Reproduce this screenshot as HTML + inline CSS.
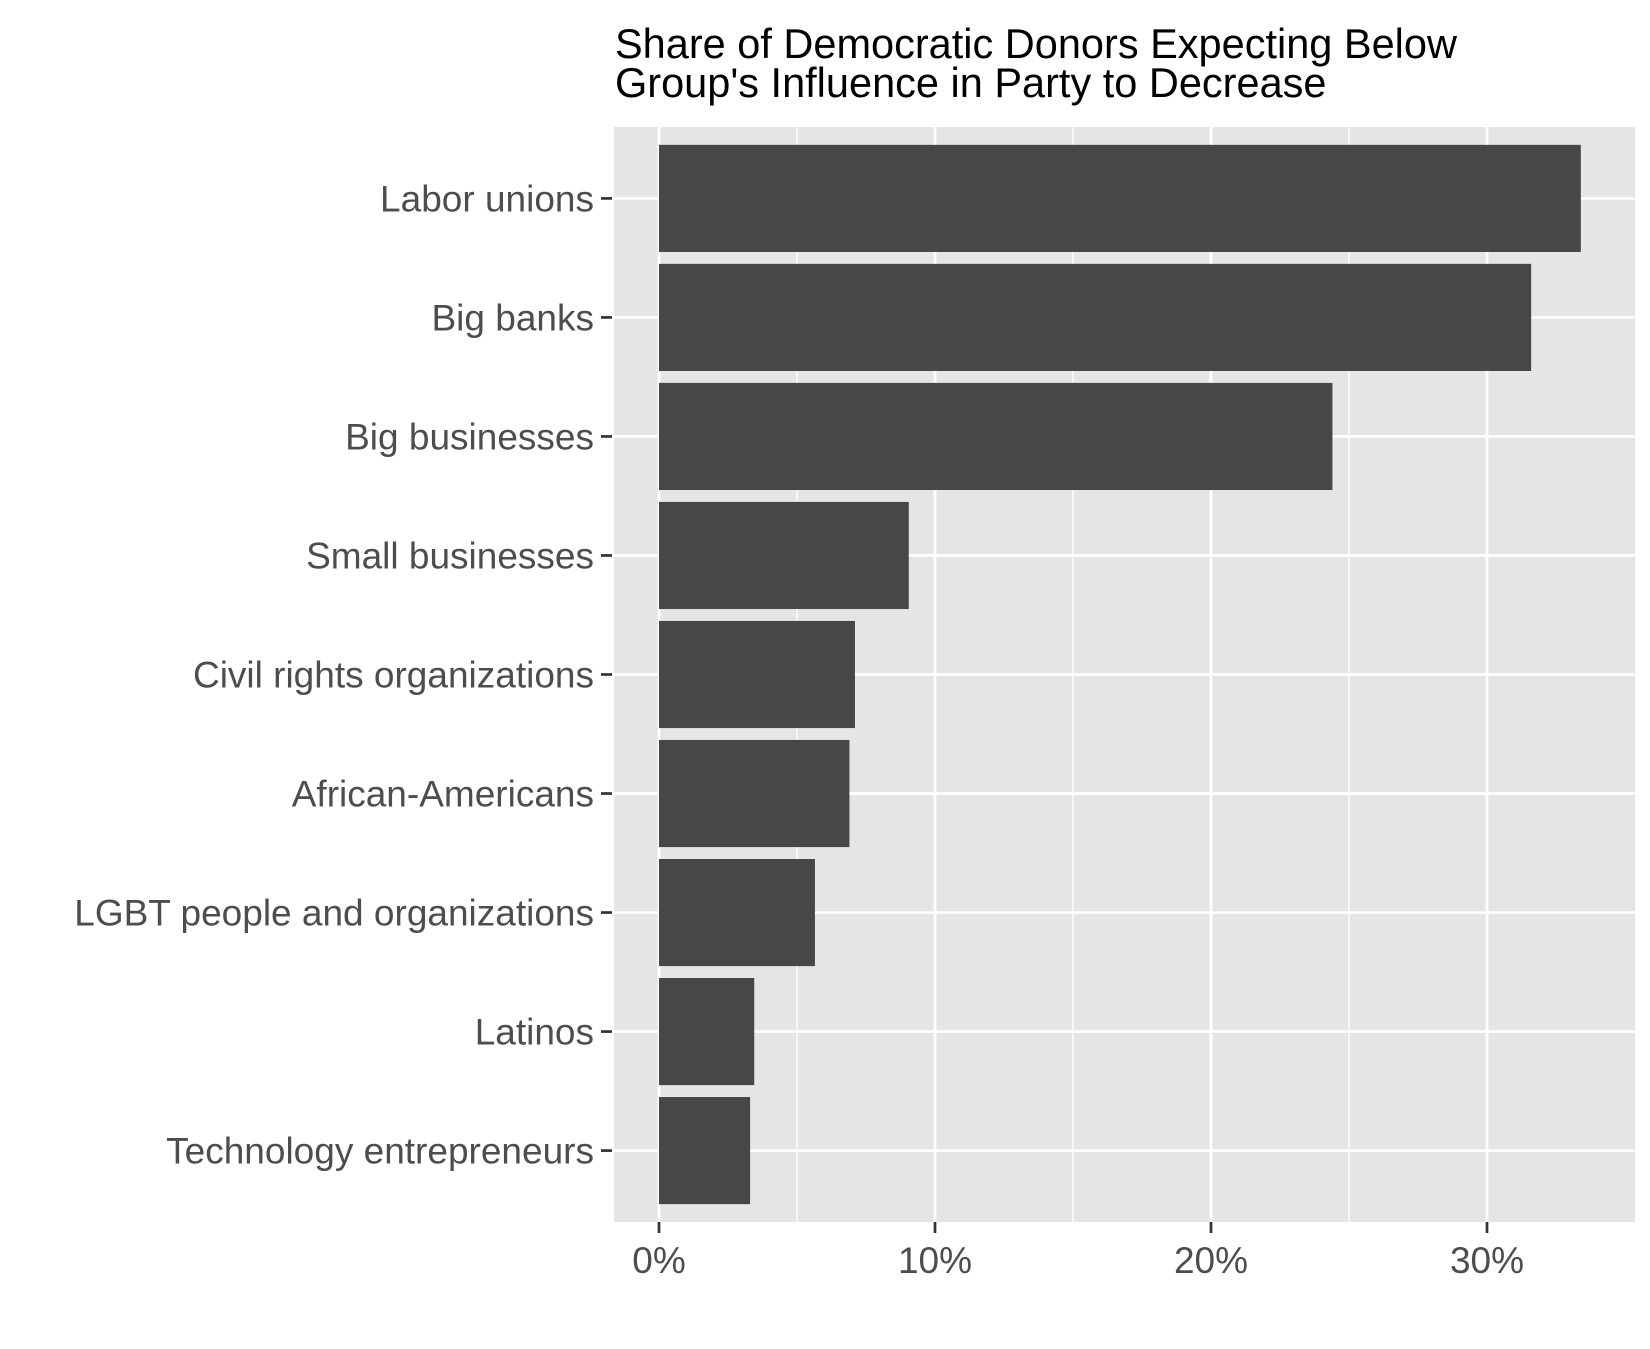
<!DOCTYPE html>
<html><head><meta charset="utf-8"><style>
body{margin:0;background:#fff}
svg{display:block;font-family:"Liberation Sans",Arial,sans-serif}
</style></head><body>
<svg id="chart" width="1650" height="1349">
<text x="615" y="58" font-size="41.5" fill="#000">Share of Democratic Donors Expecting Below</text>
<text x="615" y="97" font-size="41.5" fill="#000">Group's Influence in Party to Decrease</text>
<rect x="614" y="127" width="1021" height="1095" fill="#e5e5e5"/>
<g id="grid"></g><g id="bars"></g><g id="yaxis"></g><g id="xaxis"></g>
</svg>
<script>
const categories=["Labor unions","Big banks","Big businesses","Small businesses","Civil rights organizations","African-Americans","LGBT people and organizations","Latinos","Technology entrepreneurs"];
const values=[33.4,31.6,24.4,9.05,7.1,6.9,5.65,3.45,3.3];
const xTicks=[0,10,20,30];
const xTickLabels=["0%","10%","20%","30%"];
const NS="http://www.w3.org/2000/svg";
const x0=659,pxPer=27.6;
const X=v=>x0+v*pxPer;
const panelTop=127,panelBottom=1222,nCat=categories.length,unit=(panelBottom-panelTop)/(nCat+0.2);
const Y=i=>panelTop+unit*(0.6+i);
function mk(tag,attrs,parent){const e=document.createElementNS(NS,tag);for(const k in attrs)e.setAttribute(k,attrs[k]);document.getElementById(parent).appendChild(e);return e;}
for(let v=5;v<35;v+=10){const g=mk("line",{x1:X(v),x2:X(v),y1:panelTop,y2:panelBottom,stroke:"#fff","stroke-width":1.3},"grid");

}
xTicks.forEach((v,i)=>{const g=mk("line",{x1:X(v),x2:X(v),y1:panelTop,y2:panelBottom,stroke:"#fff","stroke-width":2.7},"grid");


const t=mk("line",{x1:X(v),x2:X(v),y1:panelBottom,y2:panelBottom+11,stroke:"#333","stroke-width":2.7},"xaxis");


const l=mk("text",{x:X(v),y:panelBottom+51,"text-anchor":"middle","font-size":37,fill:"#4d4d4d"},"xaxis");
l.textContent=xTickLabels[i];

});
categories.forEach((c,i)=>{const y=Y(i);
const g=mk("line",{x1:614,x2:1635,y1:y,y2:y,stroke:"#fff","stroke-width":2.7},"grid");


const b=mk("rect",{x:x0,y:y-unit*0.45,width:X(values[i])-x0,height:unit*0.9,fill:"#474747"},"bars");


const t=mk("line",{x1:601,x2:612,y1:y,y2:y,stroke:"#333","stroke-width":2.7},"yaxis");


const l=mk("text",{x:594,y:y+13,"text-anchor":"end","font-size":37,fill:"#4d4d4d"},"yaxis");
l.textContent=c;

});
</script>
</body></html>
